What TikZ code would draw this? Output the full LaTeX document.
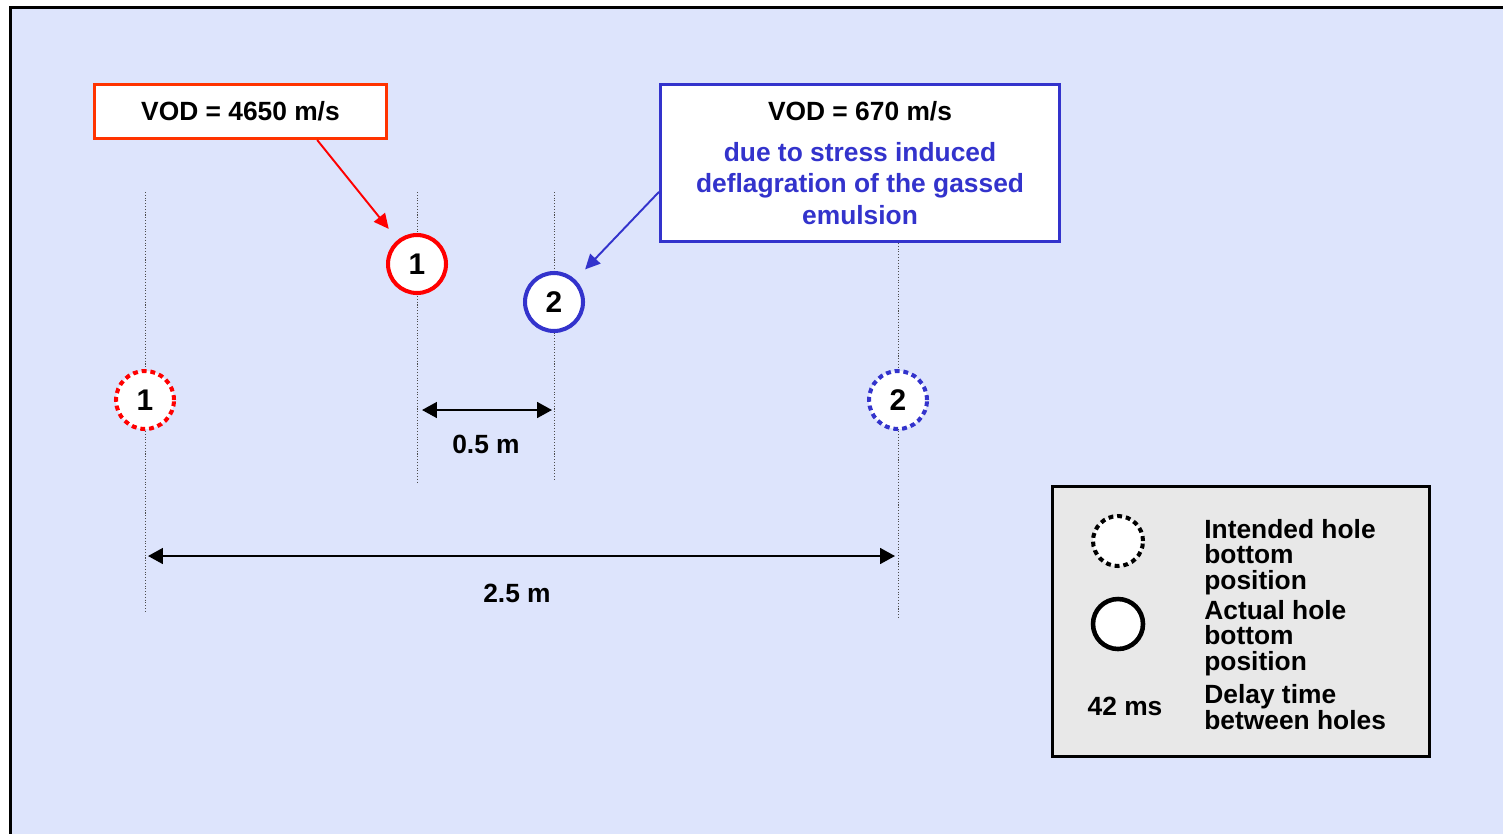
\documentclass[tikz,border=0pt]{standalone}
\usepackage{fontspec}
\setmainfont{Liberation Sans}
\usepackage{tikz}
\usetikzlibrary{arrows.meta, positioning, calc}
\usepackage{xcolor}
\definecolor{bgBlue}{HTML}{DDE4FC}
\definecolor{vodRed}{HTML}{FF3300}
\definecolor{holeRed}{HTML}{FF0000}
\definecolor{holeBlue}{HTML}{3333CC}
\definecolor{keyGray}{HTML}{E8E8E8}

\begin{document}
\begin{tikzpicture}[x=0.02cm, y=-0.02cm,
    hole/.style={circle, draw, fill=white, line width=2.3pt, minimum size=1.16cm, inner sep=0pt, font=\fontsize{17}{17}\selectfont\bfseries},
    planned/.style={hole, dash pattern=on 2.8pt off 2.2pt},
    callout/.style={draw, fill=white, line width=1.7pt, align=center, font=\fontsize{15}{18}\selectfont\bfseries},
    guide/.style={line width=0.5pt, dash pattern=on 0.6pt off 1pt, black!70},
    dim/.style={{Triangle[length=8.5pt,width=9pt]}-{Triangle[length=8.5pt,width=9pt]}, line width=1.2pt},
    pointer/.style={-{Triangle[length=8.5pt,width=8pt]}, line width=1.1pt, shorten >=8pt},
    dimtext/.style={font=\fontsize{15}{15}\selectfont\bfseries},
    keytext/.style={align=left, anchor=west, inner sep=0pt, font=\fontsize{15}{14.7}\selectfont\bfseries},
]
    % Frame
    \useasboundingbox (0,0) rectangle (1503,833);
    \clip (0,0) rectangle (1503,833);
    \draw[line width=1.7pt, fill=bgBlue] (10.5,7.5) rectangle (1530,860);

    % Guide lines
    \draw[guide] (145,192) -- (145,612);
    \draw[guide] (417,192) -- (417,482);
    \draw[guide] (554,192) -- (554,480);
    \draw[guide] (898,243) -- (898,618);

    % Callouts
    \node[callout, draw=vodRed, minimum width=5.84cm, minimum height=1.08cm] (vodA) at (240.5,111.5) {VOD = 4650 m/s};
    \node[callout, draw=holeBlue, minimum width=7.98cm, minimum height=3.14cm] (vodB) at (860,163)
        {VOD = 670 m/s\\[5pt]\textcolor{holeBlue}{due to stress induced}\\\textcolor{holeBlue}{deflagration of the gassed}\\\textcolor{holeBlue}{emulsion}};

    % Holes
    \node[hole, draw=holeRed] (actual1) at (417,264) {1};
    \node[hole, draw=holeBlue] (actual2) at (554,302) {2};
    \node[planned, draw=holeRed] (planned1) at (145,400) {1};
    \node[planned, draw=holeBlue] (planned2) at (898,400) {2};

    % Pointers
    \draw[pointer, holeRed] ($(vodA.south west)!0.76!(vodA.south east)$) -- (actual1);
    \draw[pointer, holeBlue] ([yshift=-16.4pt]vodB.west) -- (actual2);

    % Spacings
    \coordinate (halfL) at (422,410);
    \coordinate (halfR) at (552,410);
    \coordinate (fullL) at (148,556);
    \coordinate (fullR) at (895,556);
    \draw[dim] (halfL) -- (halfR);
    \draw[dim] (fullL) -- (fullR);
    \node[dimtext] (halfM) at (486,444) {0.5 m};
    \node[dimtext] (fullM) at (517,593) {2.5 m};

    % Legend
    \node[draw, fill=keyGray, line width=1.7pt, minimum width=7.54cm, minimum height=5.4cm] (key) at (1241,621.5) {};
    \node[planned, draw=black, minimum size=1cm] (keyPlanned) at (1118,541) {};
    \node[hole, draw=black, minimum size=1cm, line width=2.6pt] (keyActual) at (1118,624) {};
    \node[dimtext] (keyDelay) at (1125,706) {42 ms};
    \node[keytext] (keyPlannedText) at (1204,557) {Intended hole\\bottom\\position};
    \node[keytext] (keyActualText) at (1204,638) {Actual hole\\bottom\\position};
    \node[keytext] (keyDelayText) at (1204,707) {Delay time\\between holes};
\end{tikzpicture}
\end{document}
